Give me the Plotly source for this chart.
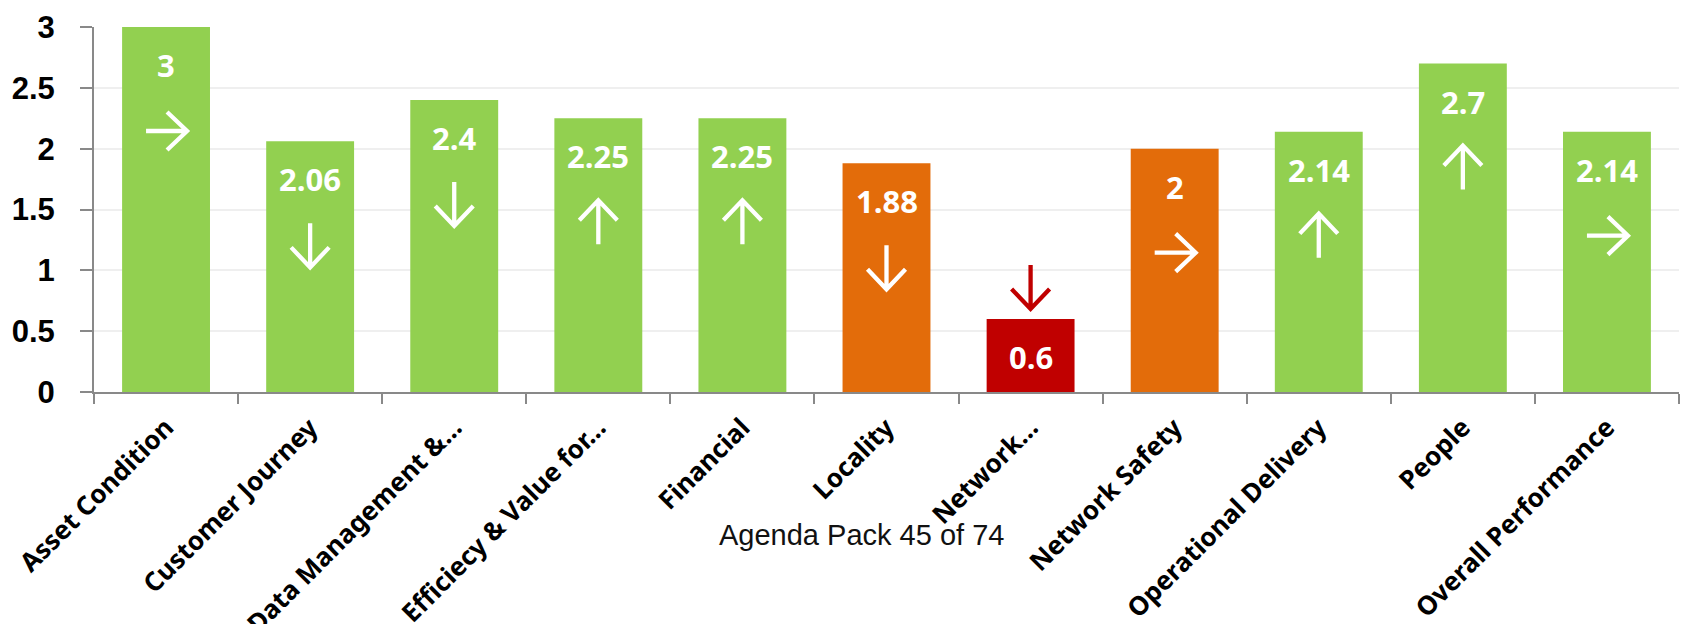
import plotly.graph_objects as go

categories = ["Asset Condition", "Customer Journey", "Data Management &…",
              "Efficiecy & Value for…", "Financial", "Locality", "Network…",
              "Network Safety", "Operational Delivery", "People", "Overall Performance"]
scores = [3, 2.06, 2.4, 2.25, 2.25, 1.88, 0.6, 2, 2.14, 2.7, 2.14]
score_labels = ["3", "2.06", "2.4", "2.25", "2.25", "1.88", "0.6", "2", "2.14", "2.7", "2.14"]
trends = ["right", "down", "down", "up", "up", "down", "down", "right", "up", "up", "right"]
ratings = ["green", "green", "green", "green", "green", "amber", "red", "amber", "green", "green", "green"]
footer_text = "Agenda Pack 45 of 74"

rating_colors = {"green": "#92D050", "amber": "#E36C0A", "red": "#C00000"}
bar_colors = [rating_colors[r] for r in ratings]

W, H = 1683, 624
ML, MR, MT, MB = 94, 4, 27, 232
plot_h = H - MT - MB
px_per_unit = plot_h / 3.0

# arrow geometry (pixels, relative to arrow centre, y positive = up)
arrow_paths = {
    "right": [("M", -20, 0), ("L", 21, 0), ("M", 1, 19), ("L", 21, 0), ("L", 1, -19)],
    "up": [("M", 0, -22), ("L", 0, 22), ("M", -19, 2), ("L", 0, 22), ("L", 19, 2)],
    "down": [("M", 0, 22), ("L", 0, -22), ("M", -19, -2), ("L", 0, -22), ("L", 19, -2)],
}


def arrow_path(kind, dy):
    return " ".join(f"{c} {x:g},{y + dy:g}" for c, x, y in arrow_paths[kind])


fig = go.Figure()
fig.add_trace(go.Bar(
    x=categories, y=scores, marker=dict(color=bar_colors, line=dict(width=0)),
    width=0.61, hoverinfo="skip", showlegend=False,
))

annotations = []
shapes = []
for i, (cat, v, lab, tr, col) in enumerate(zip(categories, scores, score_labels, trends, bar_colors)):
    annotations.append(dict(
        x=cat, y=v, xref="x", yref="y", text=lab, showarrow=False,
        yshift=-38, yanchor="middle", xanchor="center",
        font=dict(family="Open Sans", size=31, color="white", weight="bold"),
    ))
    bar_px = v * px_per_unit
    if bar_px > 150:
        off, color = -104, "white"
    else:
        off, color = 32, col
    shapes.append(dict(
        type="path", xref="x", yref="y", xsizemode="pixel", ysizemode="pixel",
        xanchor=i, yanchor=v, path=arrow_path(tr, off),
        line=dict(color=color, width=4.3), layer="above",
    ))

annotations.append(dict(
    x=(861 - ML) / (W - ML - MR), y=(MT + plot_h - 535) / plot_h, xref="paper", yref="paper",
    text=footer_text, showarrow=False, xanchor="center", yanchor="middle",
    font=dict(family="Liberation Sans", size=29, color="#111111"),
))

fig.update_layout(
    width=W, height=H,
    margin=dict(l=ML, r=MR, t=MT, b=MB, autoexpand=False),
    paper_bgcolor="white", plot_bgcolor="white",
    annotations=annotations, shapes=shapes,
    xaxis=dict(
        type="category", tickangle=-45, tickson="boundaries", ticks="outside",
        ticklen=10, tickwidth=2, tickcolor="#898989",
        showline=True, linecolor="#898989", linewidth=2,
        tickfont=dict(family="Noto Sans", size=26, color="black", weight="bold"),
        ticklabelstandoff=8,
        automargin=False, showgrid=False, range=[-0.5, 10.5],
    ),
    yaxis=dict(
        range=[0, 3], tickvals=[0, 0.5, 1, 1.5, 2, 2.5, 3],
        ticktext=["0", "0.5", "1", "1.5", "2", "2.5", "3"],
        ticks="outside", ticklen=12, tickwidth=2, tickcolor="#898989",
        showline=True, linecolor="#898989", linewidth=2,
        showgrid=True, gridcolor="#EFEFEF", gridwidth=2, zeroline=False,
        tickfont=dict(family="Liberation Sans", size=31, color="black", weight="bold"),
        ticklabelstandoff=19, automargin=False,
    ),
)

fig.write_html("out.html")
